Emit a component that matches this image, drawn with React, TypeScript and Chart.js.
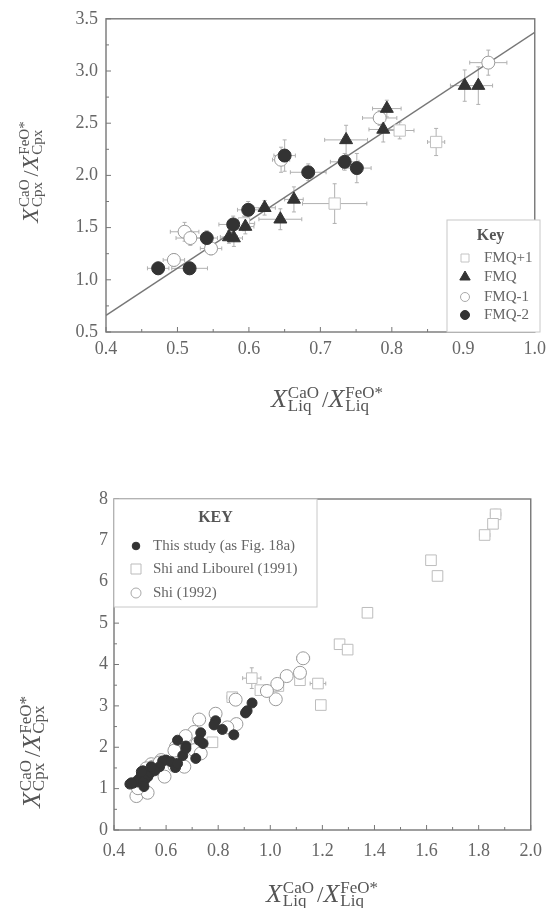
import React, { useEffect, useRef } from "react";
import { Chart, registerables } from "chart.js";
Chart.register(...registerables);

const FONT = '"Liberation Serif", "DejaVu Serif", serif';
const INK = "#666";

// ---------- Top chart (Fig. a) ----------
const topXTicks = [0.4, 0.5, 0.6, 0.7, 0.8, 0.9, 1.0];
const topYTicks = [0.5, 1.0, 1.5, 2.0, 2.5, 3.0, 3.5];

const fmqP1X = [0.811, 0.862, 0.72, 0.593];
const fmqP1Y = [2.43, 2.32, 1.73, 1.54];
const fmqP1Xerr = [0.02, 0.012, 0.045, 0.015];
const fmqP1Yerr = [0.08, 0.13, 0.19, 0.07];

const fmqX = [0.902, 0.921, 0.793, 0.788, 0.736, 0.663, 0.622, 0.644, 0.595, 0.572, 0.579];
const fmqY = [2.86, 2.86, 2.64, 2.44, 2.34, 1.77, 1.69, 1.58, 1.51, 1.41, 1.4];
const fmqXerr = [0.02, 0.02, 0.02, 0.02, 0.03, 0.013, 0.015, 0.03, 0.012, 0.012, 0.012];
const fmqYerr = [0.15, 0.18, 0.08, 0.12, 0.14, 0.12, 0.07, 0.1, 0.07, 0.06, 0.08];

const fmqM1X = [0.935, 0.783, 0.645, 0.51, 0.518, 0.547, 0.495];
const fmqM1Y = [3.08, 2.55, 2.15, 1.46, 1.4, 1.3, 1.19];
const fmqM1Xerr = [0.026, 0.024, 0.012, 0.02, 0.02, 0.015, 0.015];
const fmqM1Yerr = [0.12, 0.07, 0.12, 0.09, 0.07, 0.06, 0.06];

const fmqM2X = [0.65, 0.734, 0.751, 0.683, 0.599, 0.578, 0.541, 0.473, 0.517];
const fmqM2Y = [2.19, 2.13, 2.07, 2.03, 1.67, 1.53, 1.4, 1.11, 1.11];
const fmqM2Xerr = [0.015, 0.02, 0.02, 0.025, 0.015, 0.02, 0.015, 0.015, 0.025];
const fmqM2Yerr = [0.15, 0.08, 0.14, 0.08, 0.08, 0.08, 0.07, 0.06, 0.06];

const fitX = [0.4, 1.0];
const fitY = [0.66, 3.37];

// ---------- Bottom chart (Fig. b) ----------
const botXTicks = [0.4, 0.6, 0.8, 1.0, 1.2, 1.4, 1.6, 1.8, 2.0];
const botYTicks = [0, 1, 2, 3, 4, 5, 6, 7, 8];

const tsX = [0.93, 0.911, 0.905, 0.79, 0.784, 0.816, 0.86, 0.733, 0.742, 0.727, 0.714, 0.644, 0.676, 0.664, 0.6, 0.587, 0.619, 0.636, 0.644, 0.575, 0.556, 0.537, 0.543, 0.511, 0.505, 0.518, 0.53, 0.492, 0.518, 0.473, 0.492, 0.505, 0.461, 0.467, 0.511, 0.515, 0.676];
const tsY = [3.07, 2.88, 2.83, 2.64, 2.54, 2.43, 2.3, 2.35, 2.09, 2.17, 1.73, 2.17, 2.03, 1.8, 1.69, 1.67, 1.65, 1.51, 1.61, 1.53, 1.43, 1.37, 1.53, 1.43, 1.33, 1.33, 1.29, 1.21, 1.21, 1.13, 1.16, 1.41, 1.11, 1.14, 1.14, 1.05, 1.97];

const lsX = [1.865, 1.855, 1.823, 1.617, 1.642, 1.373, 1.266, 1.297, 1.114, 1.183, 1.194, 1.031, 0.962, 0.929, 0.854, 0.778];
const lsY = [7.63, 7.4, 7.13, 6.52, 6.14, 5.25, 4.49, 4.36, 3.62, 3.54, 3.02, 3.48, 3.38, 3.67, 3.21, 2.12];
const lsXerr = [0.02, 0.015, 0.02, 0, 0, 0, 0, 0, 0, 0.03, 0, 0, 0, 0.035, 0.02, 0];
const lsYerr = [0.12, 0.1, 0, 0, 0, 0, 0, 0, 0, 0, 0, 0, 0, 0.25, 0, 0];

const shiX = [1.126, 1.114, 1.063, 1.027, 1.021, 0.987, 0.867, 0.79, 0.727, 0.87, 0.835, 0.708, 0.675, 0.72, 0.708, 0.733, 0.638, 0.651, 0.632, 0.67, 0.632, 0.581, 0.594, 0.543, 0.524, 0.511, 0.486, 0.529, 0.492, 0.549, 0.575, 0.524];
const shiY = [4.15, 3.8, 3.72, 3.53, 3.16, 3.36, 3.15, 2.81, 2.67, 2.56, 2.48, 2.37, 2.27, 2.09, 1.93, 1.85, 2.01, 1.81, 1.92, 1.53, 1.55, 1.69, 1.29, 1.59, 1.49, 1.25, 0.82, 0.9, 1.01, 1.53, 1.63, 1.37];
const shiXerr = [0.025, 0, 0, 0, 0, 0, 0, 0, 0, 0, 0, 0, 0, 0, 0, 0, 0, 0, 0, 0, 0, 0, 0, 0, 0, 0, 0, 0, 0, 0, 0, 0];

const pts = (xs: number[], ys: number[]) => xs.map((x, i) => ({ x, y: ys[i] }));

function drawErrorBars(chart: any) {
  const { ctx } = chart;
  const xs = chart.scales.x;
  const ys = chart.scales.y;
  ctx.save();
  ctx.strokeStyle = "#b0b0b0";
  ctx.lineWidth = 1;
  chart.data.datasets.forEach((ds: any) => {
    if (!ds.errX && !ds.errY) return;
    ds.data.forEach((p: any, i: number) => {
      const px = xs.getPixelForValue(p.x);
      const py = ys.getPixelForValue(p.y);
      const ex = ds.errX ? ds.errX[i] : 0;
      const ey = ds.errY ? ds.errY[i] : 0;
      ctx.beginPath();
      if (ex > 0) {
        const a = xs.getPixelForValue(p.x - ex);
        const b = xs.getPixelForValue(p.x + ex);
        ctx.moveTo(a, py); ctx.lineTo(b, py);
        ctx.moveTo(a, py - 2); ctx.lineTo(a, py + 2);
        ctx.moveTo(b, py - 2); ctx.lineTo(b, py + 2);
      }
      if (ey > 0) {
        const a = ys.getPixelForValue(p.y - ey);
        const b = ys.getPixelForValue(p.y + ey);
        ctx.moveTo(px, a); ctx.lineTo(px, b);
        ctx.moveTo(px - 2, a); ctx.lineTo(px + 2, a);
        ctx.moveTo(px - 2, b); ctx.lineTo(px + 2, b);
      }
      ctx.stroke();
    });
  });
  ctx.restore();
}

function drawFrame(chart: any, xMinor: number, yMinor: number) {
  const { ctx, chartArea: ca } = chart;
  const xs = chart.scales.x;
  const ys = chart.scales.y;
  ctx.save();
  ctx.strokeStyle = "#777";
  ctx.lineWidth = 1.4;
  ctx.strokeRect(ca.left, ca.top, ca.right - ca.left, ca.bottom - ca.top);
  ctx.lineWidth = 1;
  ctx.beginPath();
  const nx = Math.round((xs.max - xs.min) / xMinor);
  for (let k = 0; k <= nx; k++) {
    const v = xs.min + k * xMinor;
    const p = xs.getPixelForValue(v);
    const len = k % 2 === 0 ? 5 : 3;
    ctx.moveTo(p, ca.bottom); ctx.lineTo(p, ca.bottom - len);
  }
  const ny = Math.round((ys.max - ys.min) / yMinor);
  for (let k = 0; k <= ny; k++) {
    const v = ys.min + k * yMinor;
    const p = ys.getPixelForValue(v);
    const len = k % 2 === 0 ? 5 : 3;
    ctx.moveTo(ca.left, p); ctx.lineTo(ca.left + len, p);
  }
  ctx.stroke();
  ctx.restore();
}

function drawRichTitle(ctx: any, cx: number, base: number, rotate: boolean, big: number, small: number, sup1: string, sub1: string, sup2: string, sub2: string) {
  ctx.save();
  ctx.fillStyle = "#555";
  ctx.translate(rotate ? base : cx, rotate ? cx : base);
  if (rotate) ctx.rotate(-Math.PI / 2);
  const fBig = `italic ${big}px ${FONT}`;
  const fSmall = `${small}px ${FONT}`;
  const fSlash = `${Math.round(big * 0.9)}px ${FONT}`;
  ctx.font = fBig;
  const wX = ctx.measureText("X").width;
  ctx.font = fSmall;
  const w1 = Math.max(ctx.measureText(sup1).width, ctx.measureText(sub1).width);
  const w2 = Math.max(ctx.measureText(sup2).width, ctx.measureText(sub2).width);
  ctx.font = fSlash;
  const wS = ctx.measureText("/").width;
  const g = 1;
  const total = wX + g + w1 + 3 + wS + wX + g + w2;
  let x = -total / 2;
  ctx.textBaseline = "alphabetic";
  ctx.textAlign = "left";
  const supY = -big * 0.36;
  const subY = big * 0.17;
  ctx.font = fBig; ctx.fillText("X", x, 0); x += wX + g;
  ctx.font = fSmall; ctx.fillText(sup1, x, supY); ctx.fillText(sub1, x, subY); x += w1 + 3;
  ctx.font = fSlash; ctx.fillText("/", x, 0); x += wS;
  ctx.font = fBig; ctx.fillText("X", x, 0); x += wX + g;
  ctx.font = fSmall; ctx.fillText(sup2, x, supY); ctx.fillText(sub2, x, subY);
  ctx.restore();
}

function drawMarker(ctx: any, style: string, x: number, y: number, r: number, fill: string, stroke: string) {
  ctx.save();
  ctx.fillStyle = fill;
  ctx.strokeStyle = stroke;
  ctx.lineWidth = 1;
  ctx.beginPath();
  if (style === "circle") {
    ctx.arc(x, y, r, 0, Math.PI * 2);
  } else if (style === "triangle") {
    ctx.moveTo(x, y - r);
    ctx.lineTo(x + r * 0.866, y + r * 0.5);
    ctx.lineTo(x - r * 0.866, y + r * 0.5);
    ctx.closePath();
  } else {
    ctx.rect(x - r, y - r, 2 * r, 2 * r);
  }
  ctx.fill();
  ctx.stroke();
  ctx.restore();
}

const topLegendItems = [
  { label: "FMQ+1", style: "rect", r: 4, fill: "#fff", stroke: "#c4c4c4" },
  { label: "FMQ", style: "triangle", r: 6, fill: "#333", stroke: "#333" },
  { label: "FMQ-1", style: "circle", r: 4.5, fill: "#fff", stroke: "#aaa" },
  { label: "FMQ-2", style: "circle", r: 4.5, fill: "#333", stroke: "#333" },
];
const botLegendItems = [
  { label: "This study (as Fig. 18a)", style: "circle", r: 3.8, fill: "#333", stroke: "#333" },
  { label: "Shi and Libourel (1991)", style: "rect", r: 5, fill: "#fff", stroke: "#bbb" },
  { label: "Shi (1992)", style: "circle", r: 5, fill: "#fff", stroke: "#aaa" },
];

function drawLegend(ctx: any, box: any, title: string, items: any[], titleY: number, rows: number[], mx: number, tx: number, fs: number) {
  ctx.save();
  ctx.fillStyle = "#fff";
  ctx.fillRect(box.l, box.t, box.r - box.l, box.b - box.t);
  ctx.strokeStyle = "#c8c8c8";
  ctx.lineWidth = 1;
  ctx.strokeRect(box.l, box.t, box.r - box.l, box.b - box.t);
  ctx.fillStyle = "#555";
  ctx.font = `bold ${fs + 1}px ${FONT}`;
  ctx.textAlign = "center";
  ctx.textBaseline = "middle";
  ctx.fillText(title, (box.l + box.r) / 2 + (box.titleDx || 0), titleY);
  items.forEach((it, i) => {
    drawMarker(ctx, it.style, mx, rows[i], it.r, it.fill, it.stroke);
    ctx.fillStyle = "#666";
    ctx.font = `${fs}px ${FONT}`;
    ctx.textAlign = "left";
    ctx.fillText(it.label, tx, rows[i]);
  });
  ctx.restore();
}

function axisOpts(min: number, max: number, ticks: number[], fixed: number, isX: boolean, size: number, pad: number, dec: number) {
  return {
    type: "linear",
    min,
    max,
    afterBuildTicks: (s: any) => { s.ticks = ticks.map((v) => ({ value: v })); },
    afterFit: (s: any) => { if (isX) s.height = fixed; else s.width = fixed; },
    ticks: {
      callback: (v: any) => Number(v).toFixed(dec),
      font: { family: FONT, size },
      color: INK,
      padding: pad,
      maxRotation: 0,
      autoSkip: false,
    },
    grid: { display: false, drawTicks: false },
    border: { display: false },
  };
}

function ChartCanvas({ config, width, height, top }: any) {
  const ref = useRef<HTMLCanvasElement>(null);
  useEffect(() => {
    const chart = new Chart(ref.current as any, config());
    return () => chart.destroy();
  }, []);
  return (
    <canvas
      ref={ref}
      width={width}
      height={height}
      style={{ position: "absolute", left: 0, top, width, height }}
    />
  );
}

function topConfig(): any {
  const plugin = {
    id: "topDecor",
    beforeDatasetsDraw(chart: any) { drawErrorBars(chart); },
    afterDatasetsDraw(chart: any) {
      const { ctx } = chart;
      drawFrame(chart, 0.05, 0.25);
      drawLegend(ctx, { l: 447, t: 220, r: 540, b: 332, titleDx: -3 }, "Key", topLegendItems, 236, [258, 277, 297, 315], 465, 484, 15);
      drawRichTitle(ctx, 327, 407, false, 26, 17, "CaO", "Liq", "FeO*", "Liq");
      drawRichTitle(ctx, 172, 38, true, 24, 15, "CaO", "Cpx", "FeO*", "Cpx");
    },
  };
  return {
    type: "scatter",
    data: {
      datasets: [
        { label: "FMQ-2", data: pts(fmqM2X, fmqM2Y), errX: fmqM2Xerr, errY: fmqM2Yerr, pointStyle: "circle", pointRadius: 6.5, backgroundColor: "#333", borderColor: "#333", borderWidth: 1, order: 1 },
        { label: "FMQ", data: pts(fmqX, fmqY), errX: fmqXerr, errY: fmqYerr, pointStyle: "triangle", pointRadius: 7.5, backgroundColor: "#333", borderColor: "#333", borderWidth: 1, order: 2 },
        { label: "FMQ-1", data: pts(fmqM1X, fmqM1Y), errX: fmqM1Xerr, errY: fmqM1Yerr, pointStyle: "circle", pointRadius: 6.5, backgroundColor: "#fff", borderColor: "#9a9a9a", borderWidth: 1, order: 3 },
        { label: "FMQ+1", data: pts(fmqP1X, fmqP1Y), errX: fmqP1Xerr, errY: fmqP1Yerr, pointStyle: "rect", pointRadius: 8, backgroundColor: "#fff", borderColor: "#c0c0c0", borderWidth: 1, order: 4 },
        { label: "fit", data: pts(fitX, fitY), showLine: true, pointRadius: 0, borderColor: "#777", borderWidth: 1.5, order: 5 },
      ],
    },
    options: {
      responsive: false,
      animation: false,
      events: [],
      layout: { padding: { top: 15, right: 12, left: 0, bottom: 0 } },
      plugins: { legend: { display: false }, tooltip: { enabled: false } },
      scales: {
        x: axisOpts(0.4, 1.0, topXTicks, 108, true, 18, 6, 1),
        y: axisOpts(0.5, 3.5, topYTicks, 106, false, 18, 8, 1),
      },
    },
    plugins: [plugin],
  };
}

function botConfig(): any {
  const plugin = {
    id: "botDecor",
    beforeDatasetsDraw(chart: any) { drawErrorBars(chart); },
    afterDatasetsDraw(chart: any) {
      const { ctx } = chart;
      drawFrame(chart, 0.1, 0.5);
      drawLegend(ctx, { l: 114, t: 59, r: 317, b: 167 }, "KEY", botLegendItems, 78, [106, 129, 153], 136, 153, 15);
      drawRichTitle(ctx, 322, 462, false, 26, 17, "CaO", "Liq", "FeO*", "Liq");
      drawRichTitle(ctx, 312, 40, true, 26, 17, "CaO", "Cpx", "FeO*", "Cpx");
    },
  };
  return {
    type: "scatter",
    data: {
      datasets: [
        { label: "This study (as Fig. 18a)", data: pts(tsX, tsY), pointStyle: "circle", pointRadius: 5, backgroundColor: "#333", borderColor: "#333", borderWidth: 1, order: 1 },
        { label: "Shi (1992)", data: pts(shiX, shiY), errX: shiXerr, pointStyle: "circle", pointRadius: 6.5, backgroundColor: "#fff", borderColor: "#9a9a9a", borderWidth: 1, order: 2 },
        { label: "Shi and Libourel (1991)", data: pts(lsX, lsY), errX: lsXerr, errY: lsYerr, pointStyle: "rect", pointRadius: 7.5, backgroundColor: "#fff", borderColor: "#bdbdbd", borderWidth: 1, order: 3 },
      ],
    },
    options: {
      responsive: false,
      animation: false,
      events: [],
      layout: { padding: { top: 59, right: 17, left: 0, bottom: 0 } },
      plugins: { legend: { display: false }, tooltip: { enabled: false } },
      scales: {
        x: axisOpts(0.4, 2.0, botXTicks, 78, true, 18, 10, 1),
        y: axisOpts(0, 8, botYTicks, 114, false, 18, 6, 0),
      },
    },
    plugins: [plugin],
  };
}

export default function App() {
  return (
    <div style={{ position: "absolute", left: 0, top: 0, width: 552, height: 908, background: "#fff", overflow: "hidden" }}>
      <ChartCanvas config={topConfig} width={552} height={440} top={0} />
      <ChartCanvas config={botConfig} width={552} height={468} top={440} />
    </div>
  );
}
